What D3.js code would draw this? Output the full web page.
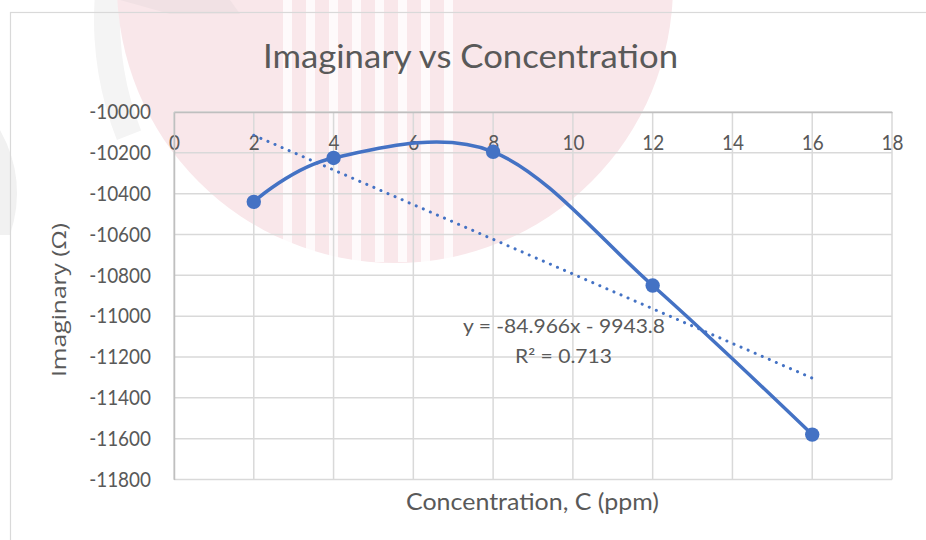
<!DOCTYPE html>
<html><head><meta charset="utf-8">
<script src="https://cdn.jsdelivr.net/npm/d3@7"></script>
<style>body{margin:0;background:#fff;overflow:hidden} svg{display:block}</style>
</head><body>
<svg id="c" width="926" height="540"></svg>
<script>
// ---- data ----
const concentrations = [2, 4, 8, 12, 16];
const imaginaryValues = [-10440, -10225, -10195, -10850, -11580];
const xTicks = [0, 2, 4, 6, 8, 10, 12, 14, 16, 18];
const yTicks = [-10000, -10200, -10400, -10600, -10800, -11000, -11200, -11400, -11600, -11800];
const trendSlope = -84.966;
const trendIntercept = -9943.8;
const titleText = "Imaginary vs Concentration";
const xTitleText = "Concentration, C (ppm)";
const yTitleText = "Imaginary (Ω)";
const eqText = "y = -84.966x - 9943.8";
const r2Text = "R² = 0.713";

const svg = d3.select("#c");
const TXT = "#595959", BLUE = "#4472C4", GRID = "#d9d9d9";
const FONT = "Lato, 'Open Sans', sans-serif";

// ---- faint watermark background ----
const wm = svg.append("g");
wm.append("path").attr("transform", "translate(420,20)")
  .attr("d", d3.arc().innerRadius(300).outerRadius(326).startAngle(-Math.PI * 0.62).endAngle(-Math.PI * 0.08)())
  .attr("fill", "#f4f4f4");
wm.append("circle").attr("cx", 395).attr("cy", -15).attr("r", 278).attr("fill", "#f9e7ea");
wm.append("path").attr("d", "M120,0 L230,0 L240,14 L170,14 Z").attr("fill", "#f1e1e4");
for (let i = 0; i < 8; i++) {
  const sx = 283 + i * 23;
  wm.append("rect").attr("x", sx).attr("y", 0).attr("width", 9).attr("height", 262)
    .attr("fill", "#ffffff").attr("opacity", 0.8);
}
wm.append("path").attr("d", "M0,130 Q28,180 10,235 L0,235 Z").attr("fill", "#f1f1f1");

// chart frame
svg.append("rect").attr("x", 10.5).attr("y", 12.5).attr("width", 1000).attr("height", 1000)
  .attr("fill", "none").attr("stroke", GRID).attr("stroke-width", 1.2);

// ---- scales ----
const x = d3.scaleLinear().domain([0, 18]).range([174, 892]);
const y = d3.scaleLinear().domain([-11800, -10000]).range([479.5, 112]);

// gridlines
const grid = svg.append("g");
grid.selectAll(".vg").data(xTicks).join("line")
  .attr("x1", d => x(d)).attr("x2", d => x(d)).attr("y1", y(-10000)).attr("y2", y(-11800))
  .attr("stroke", GRID).attr("stroke-width", 1.5);
grid.selectAll(".hg").data(yTicks).join("line")
  .attr("y1", d => y(d)).attr("y2", d => y(d)).attr("x1", x(0)).attr("x2", x(18))
  .attr("stroke", GRID).attr("stroke-width", 1.5);

// axes
const xAxis = svg.append("g").attr("transform", `translate(0,${y(-10000)})`)
  .call(d3.axisBottom(x).tickValues(xTicks).tickSize(0).tickPadding(23).tickFormat(d3.format("d")));
const yAxis = svg.append("g").attr("transform", `translate(${x(0)},0)`)
  .call(d3.axisLeft(y).tickValues(yTicks).tickSize(0).tickPadding(23).tickFormat(d => String(d)));
[xAxis, yAxis].forEach(a => {
  a.select(".domain").attr("stroke", "#bfbfbf").attr("stroke-width", 1.5);
  a.selectAll("text").attr("fill", TXT).attr("font-family", FONT).attr("font-size", 21);
});
function squeeze(sel, f) {
  sel.each(function () {
    const L = this.getComputedTextLength();
    d3.select(this).attr("textLength", L * f).attr("lengthAdjust", "spacingAndGlyphs");
  });
}
squeeze(xAxis.selectAll("text"), 0.9);
squeeze(yAxis.selectAll("text"), 0.9);

// trendline (dotted)
const tx = [d3.min(concentrations), d3.max(concentrations)];
svg.append("line")
  .attr("x1", x(tx[0])).attr("y1", y(trendSlope * tx[0] + trendIntercept))
  .attr("x2", x(tx[1])).attr("y2", y(trendSlope * tx[1] + trendIntercept))
  .attr("stroke", BLUE).attr("stroke-width", 3).attr("stroke-linecap", "round")
  .attr("stroke-dasharray", "0.1 7.6");

// smoothed series line
const pts = concentrations.map((c, i) => [c, imaginaryValues[i]]);
const line = d3.line().x(d => x(d[0])).y(d => y(d[1])).curve(d3.curveCardinal.tension(0));
svg.append("path").datum(pts).attr("d", line)
  .attr("fill", "none").attr("stroke", BLUE).attr("stroke-width", 3.5).attr("stroke-linecap", "round");
svg.selectAll(".pt").data(pts).join("circle")
  .attr("cx", d => x(d[0])).attr("cy", d => y(d[1])).attr("r", 7.2).attr("fill", BLUE);

// texts
function fitText(t, width) {
  t.attr("textLength", width).attr("lengthAdjust", "spacingAndGlyphs");
  return t;
}
fitText(svg.append("text").attr("x", 470.5).attr("y", 68).attr("text-anchor", "middle")
  .attr("font-family", FONT).attr("font-size", 33).attr("fill", TXT).text(titleText), 415);
fitText(svg.append("text").attr("x", 532.5).attr("y", 510).attr("text-anchor", "middle")
  .attr("font-family", FONT).attr("font-size", 23.5).attr("fill", TXT).text(xTitleText), 253);
fitText(svg.append("text").attr("transform", "translate(66,300) rotate(-90)").attr("text-anchor", "middle")
  .attr("font-family", "'Open Sans', sans-serif").attr("font-size", 19.5).attr("fill", TXT).text(yTitleText), 154);
fitText(svg.append("text").attr("x", 564).attr("y", 333).attr("text-anchor", "middle")
  .attr("font-family", FONT).attr("font-size", 18.5).attr("fill", TXT).text(eqText), 202);
fitText(svg.append("text").attr("x", 563.5).attr("y", 363).attr("text-anchor", "middle")
  .attr("font-family", FONT).attr("font-size", 18.5).attr("fill", TXT).text(r2Text), 97);
</script>
</body></html>
